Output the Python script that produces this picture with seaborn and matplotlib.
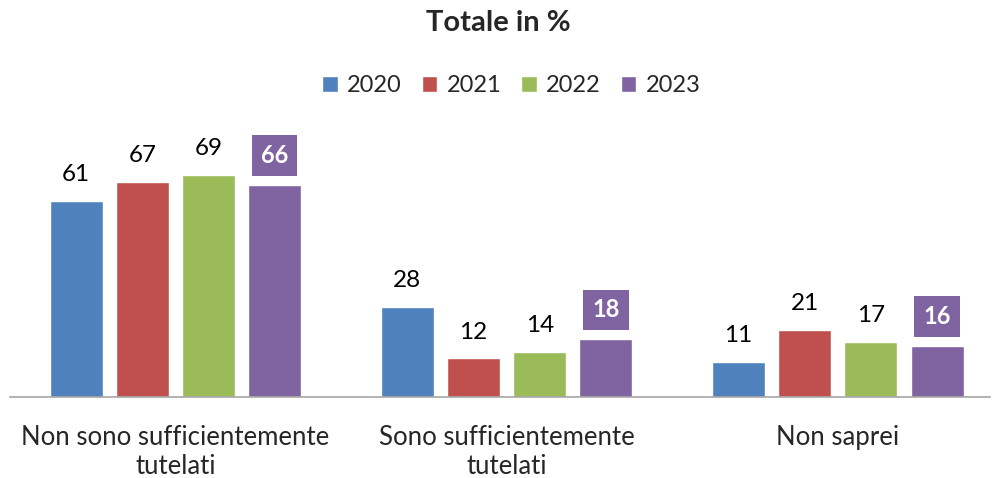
import pandas as pd
import matplotlib
matplotlib.use("Agg")
import matplotlib.pyplot as plt
import seaborn as sns

# data
categories = ["Non sono sufficientemente\ntutelati", "Sono sufficientemente\ntutelati", "Non saprei"]
years = ["2020", "2021", "2022", "2023"]
v2020 = [61, 28, 11]
v2021 = [67, 12, 21]
v2022 = [69, 14, 17]
v2023 = [66, 18, 16]
colors = ["#4F81BD", "#C0504D", "#9BBB59", "#8064A2"]

rows = []
for year, vals in zip(years, [v2020, v2021, v2022, v2023]):
    for cat, v in zip(categories, vals):
        rows.append({"categoria": cat, "anno": year, "valore": v})
df = pd.DataFrame(rows)

sns.set_style("white")
plt.rcParams["font.family"] = ["Lato", "DejaVu Sans"]

fig = plt.figure(figsize=(9.97, 4.78), dpi=100)
ax = fig.add_axes([0.01, 0.1695, 0.983, 0.5377])

sns.barplot(data=df, x="categoria", y="valore", hue="anno", palette=colors,
            saturation=1, width=0.8, gap=0.2, ax=ax, legend=True)

ax.set_ylim(0, 80)
ax.set_xlim(-0.5, 2.46)
ax.set_xlabel("")
ax.set_ylabel("")
ax.set_yticks([])
ax.tick_params(axis="x", length=0, pad=20, labelsize=18.5)
for lab in ax.get_xticklabels():
    lab.set_linespacing(1.2)
for s in ["top", "left", "right"]:
    ax.spines[s].set_visible(False)
ax.spines["bottom"].set_color("#A6A6A6")
ax.spines["bottom"].set_linewidth(1.2)

# value labels
for i, cont in enumerate(ax.containers):
    for bar in cont:
        h = bar.get_height()
        x = bar.get_x() + bar.get_width() / 2
        if years[i] == "2023":
            ax.annotate(f"{h:.0f}", (x, h), xytext=(0, 21), textcoords="offset points",
                        ha="center", va="center", fontsize=17, fontweight="bold",
                        color="white",
                        bbox=dict(boxstyle="square,pad=0.38", fc=colors[3], ec="none"))
        else:
            ax.annotate(f"{h:.0f}", (x, h), xytext=(0, 19), textcoords="offset points",
                        ha="center", va="center", fontsize=17.5, color="black")

ax.legend(loc="center", ncol=4, frameon=False, fontsize=17,
          handlelength=0.65, handleheight=0.65, handletextpad=0.4, columnspacing=0.85)
leg = ax.get_legend()
leg.set_bbox_to_anchor((0.513, 1 - 86 / 478), transform=fig.transFigure)

fig.suptitle("Totale in %", y=1 - 23 / 478, va="center", fontsize=21, fontweight="bold")

fig.savefig("out.png", dpi=100)
